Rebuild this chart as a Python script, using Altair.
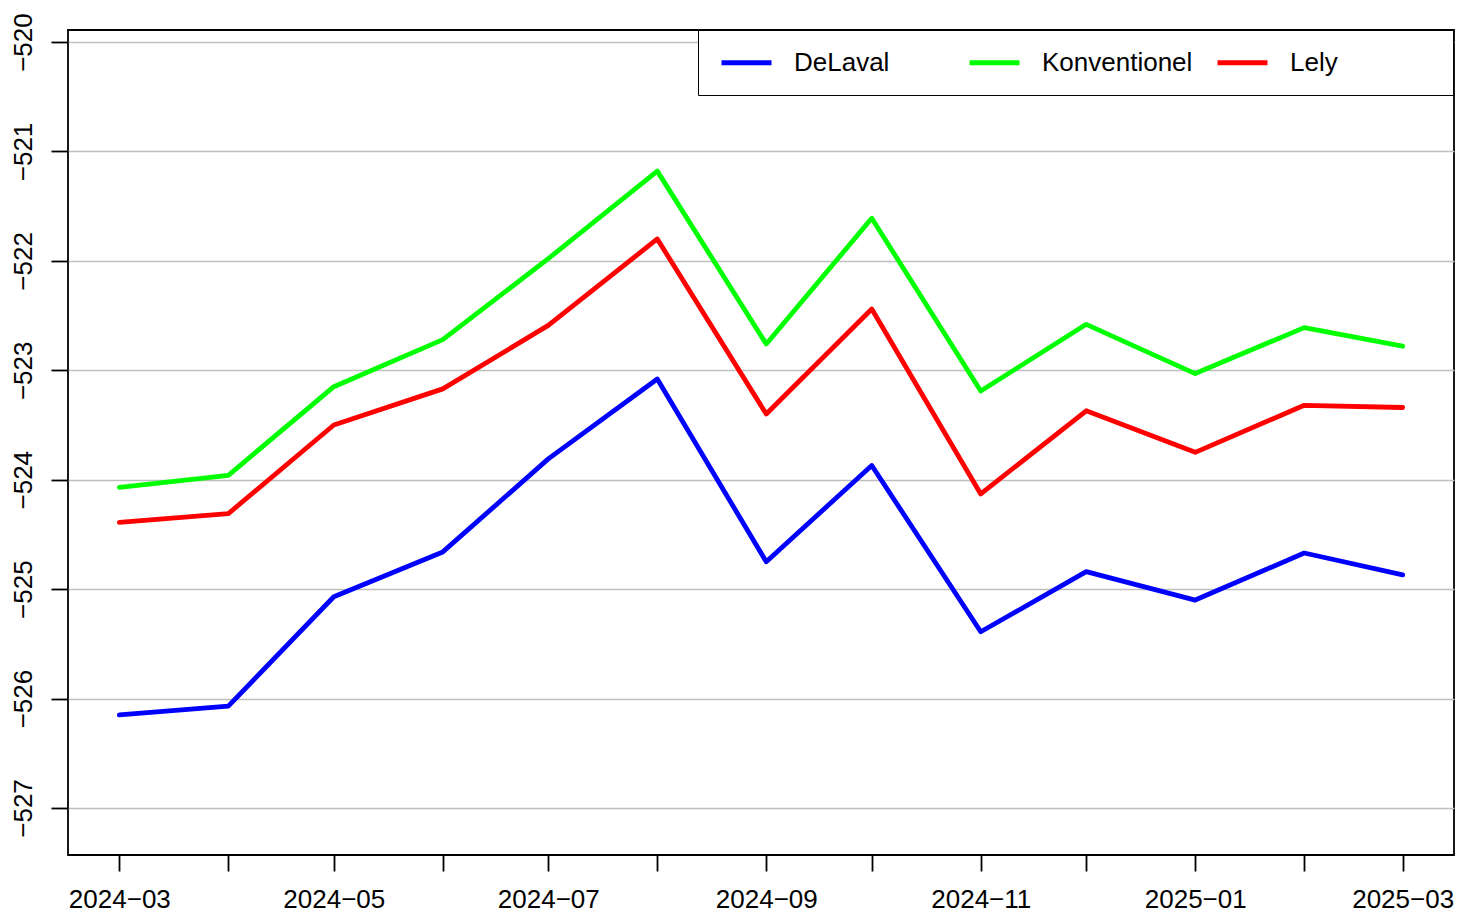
import altair as alt
import pandas as pd

months = ["2024-03-01", "2024-04-01", "2024-05-01", "2024-06-01", "2024-07-01",
          "2024-08-01", "2024-09-01", "2024-10-01", "2024-11-01", "2024-12-01",
          "2025-01-01", "2025-02-01", "2025-03-01"]

delaval = [-526.15, -526.07, -525.07, -524.66, -523.81, -523.08, -524.75,
           -523.87, -525.39, -524.84, -525.10, -524.67, -524.87]
konventionel = [-524.07, -523.96, -523.15, -522.72, -521.98, -521.18, -522.76,
                -521.61, -523.19, -522.58, -523.03, -522.61, -522.78]
lely = [-524.39, -524.31, -523.50, -523.17, -522.59, -521.80, -523.40,
        -522.44, -524.13, -523.37, -523.75, -523.32, -523.34]

series_names = ["DeLaval", "Konventionel", "Lely"]
series_colors = ["#0000FF", "#00FF00", "#FF0000"]
y_ticks = [-527, -526, -525, -524, -523, -522, -521, -520]

rows = []
for name, vals in zip(series_names, [delaval, konventionel, lely]):
    for m, v in zip(months, vals):
        rows.append({"month": m, "value": v, "series": name})
df = pd.DataFrame(rows)

tick_dates = [alt.DateTime(year=int(m[:4]), month=int(m[5:7]), date=1, utc=True) for m in months]

x_axis = alt.Axis(
    values=tick_dates,
    labelExpr="utcmonth(datum.value) % 2 == 0 ? replace(utcFormat(datum.value, '%Y-%m'), '-', '\u2212') : ''",
    title=None, grid=False, domain=False,
    tickSize=16, tickWidth=1.8, tickColor="black",
    labelFont="Liberation Sans", labelFontSize=26, labelColor="black",
    labelPadding=36, labelOverlap=False, labelFlush=False, labelBaseline="alphabetic",
)
y_axis = alt.Axis(
    values=y_ticks, format="d", title=None, domain=False,
    grid=True, gridColor="#BEBEBE", gridWidth=1.5,
    tickSize=17, tickWidth=1.8, tickColor="black",
    labelFont="Liberation Sans", labelFontSize=26, labelColor="black",
    labelAngle=270, labelAlign="center", labelBaseline="alphabetic",
    labelPadding=20, labelOverlap=False, labelFlush=False,
)

# pad the last legend label with invisible no-break spaces (closed by a
# zero-width space so they are not trimmed) so the legend box reaches the
# plot's right edge, as in the reference
legend_label = ("datum.label == 'Lely' ? 'Lely' + '"
                + "\u00a0" * 13 + "\u200a\u200b' : datum.label")

chart = alt.Chart(df).mark_line(strokeWidth=4.8, strokeCap="round", strokeJoin="round").encode(
    x=alt.X("month:T", axis=x_axis, scale=alt.Scale(
        type="utc",
        domain=[alt.DateTime(year=2024, month=2, date=15, hours=9, minutes=36, utc=True),
                alt.DateTime(year=2025, month=3, date=15, hours=14, minutes=24, utc=True)])),
    y=alt.Y("value:Q", axis=y_axis, scale=alt.Scale(domain=[-527.43, -519.89], nice=False, zero=False)),
    color=alt.Color("series:N", scale=alt.Scale(domain=series_names, range=series_colors),
                    legend=alt.Legend(
                        title=None, orient="none", legendX=630, legendY=0,
                        direction="horizontal", columns=3, gridAlign="all",
                        symbolType="M-2.3256,0H2.3256", symbolSize=462, symbolStrokeWidth=4.8,
                        symbolOffset=16,
                        labelFont="Liberation Sans", labelFontSize=26, labelColor="black",
                        labelOffset=34, labelExpr=legend_label, labelLimit=400,
                        columnPadding=14, padding=19,
                        strokeColor="black", fillColor="white",
                    )),
).properties(
    width=1386, height=825,
    padding={"left": 60, "top": 22, "right": 1, "bottom": 58},
    autosize=alt.AutoSizeParams(type="none"),
).configure_view(
    stroke="black", strokeWidth=1.8
)

chart.save("out.html", embed_options={"renderer": "svg", "actions": False})
